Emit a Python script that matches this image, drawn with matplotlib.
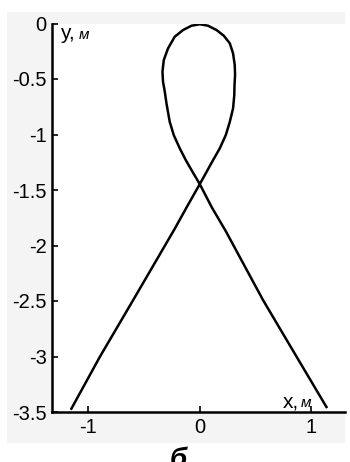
import matplotlib
matplotlib.use("Agg")
import matplotlib.pyplot as plt
from matplotlib.patches import Rectangle

# Trajectory of the point (metres), traced from bottom-left through the loop to bottom-right
x_m = [-1.149, -0.895, -0.597, -0.430, -0.224, -0.107, 0.000,
       0.119, 0.179, 0.233, 0.269, 0.298, 0.309, 0.311, 0.316, 0.313,
       0.298, 0.269, 0.215, 0.150, 0.074, 0.000,
       -0.074, -0.150, -0.224, -0.284, -0.322, -0.334, -0.329, -0.313,
       -0.298, -0.269, -0.233, -0.179, -0.125, -0.065, 0.000,
       0.107, 0.233, 0.567, 0.859, 1.134]
y_m = [-3.470, -3.004, -2.493, -2.205, -1.849, -1.637, -1.447,
       -1.231, -1.125, -1.005, -0.885, -0.765, -0.645, -0.555, -0.464, -0.374,
       -0.269, -0.179, -0.110, -0.059, -0.020, -0.007,
       -0.020, -0.059, -0.119, -0.224, -0.329, -0.435, -0.525, -0.615,
       -0.720, -0.885, -1.005, -1.125, -1.231, -1.336, -1.447,
       -1.655, -1.871, -2.493, -2.989, -3.455]

x_ticks = [-1, 0, 1]
y_ticks = [0, -0.5, -1, -1.5, -2, -2.5, -3, -3.5]
y_tick_labels = ["0", "-0.5", "-1", "-1.5", "-2", "-2.5", "-3", "-3.5"]

plt.rcParams["font.family"] = ["Liberation Sans", "DejaVu Sans"]

fig = plt.figure(figsize=(3.5, 4.62), dpi=100)
fig.patch.set_facecolor("white")

# light grey panel behind the axes
fig.patches.append(Rectangle((7 / 350, 1 - 443 / 462), (345 - 7) / 350, (443 - 12) / 462,
                             transform=fig.transFigure, facecolor="#f4f4f4",
                             edgecolor="none", zorder=-10))

ax = fig.add_axes([52.3 / 350, 1 - 412 / 462, (345 - 52.3) / 350, (412 - 23.5) / 462])
ax.set_zorder(1)
ax.set_facecolor("white")
ax.plot(x_m, y_m, color="black", lw=1.8, solid_joinstyle="round")

ax.set_xlim(-1.32, 1.3)
ax.set_ylim(-3.5, 0)
ax.set_xticks(x_ticks)
ax.set_xticklabels([str(v) for v in x_ticks])
ax.set_yticks(y_ticks)
ax.set_yticklabels(y_tick_labels)
ax.tick_params(direction="in", length=4, width=1.2, labelsize=14.5, pad=4, colors="black")

for side in ("top", "right"):
    ax.spines[side].set_visible(False)
for side in ("left", "bottom"):
    ax.spines[side].set_linewidth(1.8)

# axis captions inside the plot
ax.text(60 / 350, 1 - 39 / 462, "y,", transform=fig.transFigure, fontsize=15,
        ha="left", va="baseline")
ax.text(79 / 350, 1 - 39 / 462, "м", transform=fig.transFigure, fontsize=11,
        style="italic", ha="left", va="baseline")
ax.text(283 / 350, 1 - 407 / 462, "x,", transform=fig.transFigure, fontsize=15,
        ha="left", va="baseline")
ax.text(301 / 350, 1 - 407 / 462, "м", transform=fig.transFigure, fontsize=11,
        style="italic", ha="left", va="baseline")

fig.text(178 / 350, 1 - 447 / 462, "б", fontsize=20, fontweight="bold",
         style="italic", ha="center", va="top")

fig.savefig("out.png", dpi=100, facecolor="white")
